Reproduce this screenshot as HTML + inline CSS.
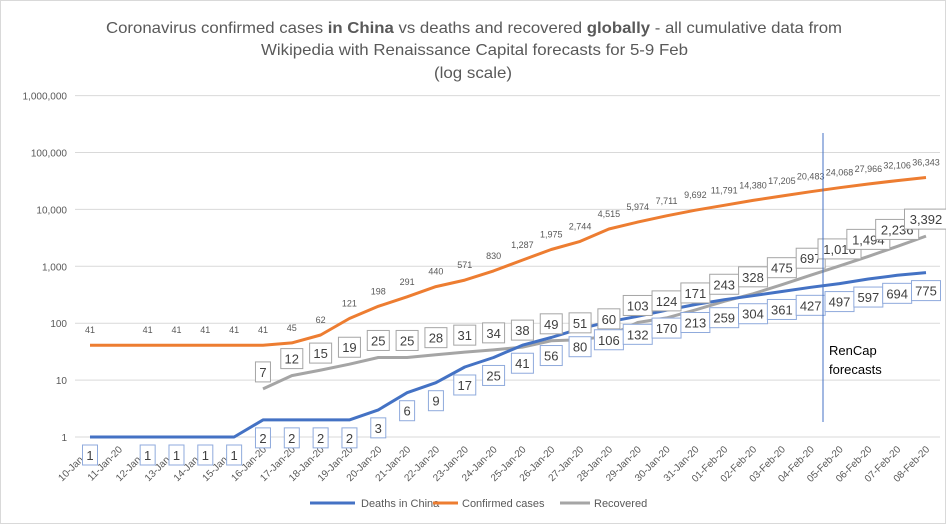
<!DOCTYPE html>
<html><head><meta charset="utf-8"><style>
body{margin:0;background:#fff}
svg{display:block;font-family:"Liberation Sans",sans-serif}
</style></head><body>
<svg id="chart" width="946" height="524" viewBox="0 0 946 524">
<rect x="0.5" y="0.5" width="945" height="523" fill="#fff" stroke="#d9d9d9"/>
<g fill="#595959" font-size="16">
<text x="106" y="33" textLength="736" lengthAdjust="spacingAndGlyphs">Coronavirus confirmed cases <tspan font-weight="bold">in China</tspan> vs deaths and recovered <tspan font-weight="bold">globally</tspan> - all cumulative data from</text>
<text x="261" y="55" textLength="427" lengthAdjust="spacingAndGlyphs">Wikipedia with Renaissance Capital forecasts for 5-9 Feb</text>
<text x="434" y="78" textLength="78" lengthAdjust="spacingAndGlyphs">(log scale)</text>
</g>
<g id="grid"></g><g id="xlabels"></g><g id="series"></g><g id="labels"></g>
<line x1="823" y1="133" x2="823" y2="422" stroke="#4472c4" stroke-width="1"/>
<text x="829" y="355" font-size="13" fill="#000"><tspan x="829">RenCap</tspan><tspan x="829" dy="19">forecasts</tspan></text>
<g font-size="11" fill="#595959">
<line x1="310" y1="503" x2="355" y2="503" stroke="#4472c4" stroke-width="3"/>
<text x="361" y="507">Deaths in China</text>
<line x1="433" y1="503" x2="458" y2="503" stroke="#ed7d31" stroke-width="3"/>
<text x="462" y="507">Confirmed cases</text>
<line x1="560" y1="503" x2="590" y2="503" stroke="#a5a5a5" stroke-width="3"/>
<text x="594" y="507">Recovered</text>
</g>
</svg>
<script>
const categories=["10-Jan-20","11-Jan-20","12-Jan-20","13-Jan-20","14-Jan-20","15-Jan-20","16-Jan-20","17-Jan-20","18-Jan-20","19-Jan-20","20-Jan-20","21-Jan-20","22-Jan-20","23-Jan-20","24-Jan-20","25-Jan-20","26-Jan-20","27-Jan-20","28-Jan-20","29-Jan-20","30-Jan-20","31-Jan-20","01-Feb-20","02-Feb-20","03-Feb-20","04-Feb-20","05-Feb-20","06-Feb-20","07-Feb-20","08-Feb-20"];
const deaths=[1,1,1,1,1,1,2,2,2,2,3,6,9,17,25,41,56,80,106,132,170,213,259,304,361,427,497,597,694,775];
const confirmed=[41,41,41,41,41,41,41,45,62,121,198,291,440,571,830,1287,1975,2744,4515,5974,7711,9692,11791,14380,17205,20483,24068,27966,32106,36343];
const recovered=[null,null,null,null,null,null,7,12,15,19,25,25,28,31,34,38,49,51,60,103,124,171,243,328,475,697,1016,1494,2236,3392];
const yTicks=[1,10,100,1000,10000,100000,1000000];
const yTickLabels=["1","10","100","1,000","10,000","100,000","1,000,000"];
const hiddenDeathLabels=[1];
const hiddenConfirmedLabels=[1];

const NS="http://www.w3.org/2000/svg";
const X0=90,X1=926,Y1=437,PER=56.9;
const xs=i=>X0+(X1-X0)*i/(categories.length-1);
const ys=v=>Y1-Math.log10(v)*PER;
function mk(tag,attrs,parent){const e=document.createElementNS(NS,tag);for(const k in attrs)e.setAttribute(k,attrs[k]);parent.appendChild(e);return e;}
const fmt=v=>v.toLocaleString('en-US');
const grid=document.getElementById('grid');
yTicks.forEach((t,i)=>{
 const l=mk('line',{x1:75,x2:940,y1:ys(t),y2:ys(t),stroke:'#d9d9d9'},grid);
 
 
 const tx=mk('text',{x:67,y:ys(t)+4,'text-anchor':'end','font-size':10,fill:'#595959'},grid);
 tx.textContent=yTickLabels[i];
 
 
});
const xl=document.getElementById('xlabels');
categories.forEach((c,i)=>{
 const x=xs(i);
 const tx=mk('text',{x:x+4,y:450,'text-anchor':'end','font-size':10,fill:'#595959',transform:`rotate(-45 ${x+4} 450)`},xl);
 tx.textContent=c;
 
 
});
const ser=document.getElementById('series');
function line(arr,color,name){
 let d='';arr.forEach((v,i)=>{if(v==null)return;d+=(d?'L':'M')+xs(i).toFixed(1)+' '+ys(v).toFixed(1);});
 const p=mk('path',{d:d,fill:'none',stroke:color,'stroke-width':3,'stroke-linejoin':'round'},ser);
 
 
}
line(recovered,'#a5a5a5','recovered-line');
line(deaths,'#4472c4','deaths-line');
line(confirmed,'#ed7d31','confirmed-line');
const lab=document.getElementById('labels');
function box(x,y,text,stroke,name){
 const w=text.length*7+8;
 const r=mk('rect',{x:x-w/2,y:y-10,width:w,height:20,fill:'#fff',stroke:stroke},lab);
 
 
 const t=mk('text',{x:x,y:y+5,'text-anchor':'middle','font-size':13,fill:'#404040'},lab);
 t.textContent=text;
 
 
}
recovered.forEach((v,i)=>{if(v==null)return;box(xs(i),ys(v)-17,fmt(v),'#a5a5a5','recovered-label');});
deaths.forEach((v,i)=>{if(hiddenDeathLabels.includes(i))return;box(xs(i),ys(v)+18,fmt(v),'#8faadc','deaths-label');});
confirmed.forEach((v,i)=>{if(hiddenConfirmedLabels.includes(i))return;
 const t=mk('text',{x:xs(i),y:ys(v)-12,'text-anchor':'middle','font-size':9,fill:'#595959'},lab);
 t.textContent=fmt(v);
 
 
});
</script>
</body></html>
